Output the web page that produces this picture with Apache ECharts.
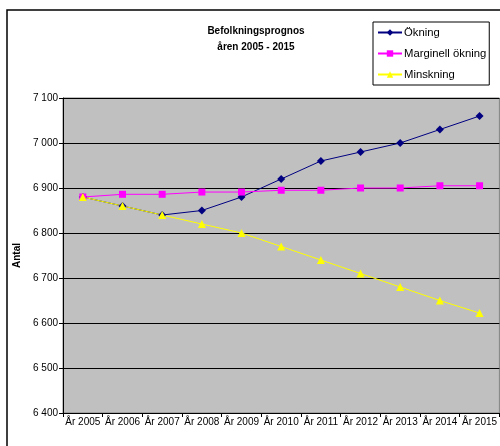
<!DOCTYPE html>
<html>
<head>
<meta charset="utf-8">
<script src="https://cdn.jsdelivr.net/npm/echarts@6/dist/echarts.min.js"></script>
<style>
  html, body { margin: 0; padding: 0; background: #fff; }
  #chart { width: 500px; height: 446px; }
</style>
</head>
<body>
<div id="chart"></div>
<script>
const years = ['År 2005', 'År 2006', 'År 2007', 'År 2008', 'År 2009', 'År 2010', 'År 2011', 'År 2012', 'År 2013', 'År 2014', 'År 2015']
const okning = [6880, 6860, 6840, 6850, 6880, 6920, 6960, 6980, 7000, 7030, 7060]
const marginell = [6880, 6886, 6886, 6891, 6891, 6895, 6895, 6900, 6900, 6905, 6905]
const minskning = [6880, 6860, 6840, 6820, 6800, 6770, 6740, 6710, 6680, 6650, 6622]

const font = 'Liberation Sans, Arial, sans-serif'
const myChart = echarts.init(document.getElementById('chart'))

myChart.setOption({
  animation: false,
  textStyle: { fontFamily: font },
  graphic: [{
    type: 'rect',
    shape: { x: 7, y: 10, width: 520, height: 460 },
    style: { fill: 'none', stroke: '#000', lineWidth: 1.5 },
    z: -1
  }],
  title: {
    text: 'Befolkningsprognos\nåren 2005 - 2015',
    left: 251,
    top: 18,
    textAlign: 'center',
    textStyle: { fontSize: 10, fontWeight: 'bold', color: '#000', lineHeight: 16, fontFamily: font }
  },
  legend: {
    orient: 'vertical',
    left: 373,
    top: 22,
    padding: [5, 3, 5, 4],
    itemGap: 10,
    itemWidth: 24,
    itemHeight: 8,
    borderColor: '#000',
    borderWidth: 1,
    backgroundColor: '#fff',
    textStyle: { fontSize: 11.3, color: '#000', fontFamily: font, padding: [0, 0, 0, -3] },
    data: ['Ökning', 'Marginell ökning', 'Minskning']
  },
  grid: {
    left: 63,
    top: 98,
    right: -1,
    bottom: 33,
    show: true,
    backgroundColor: '#c0c0c0',
    borderColor: '#808080',
    borderWidth: 1
  },
  xAxis: {
    type: 'category',
    data: years,
    boundaryGap: true,
    axisLine: { lineStyle: { color: '#000', width: 1 } },
    axisTick: { show: true, inside: false, length: 4, lineStyle: { color: '#000' } },
    axisLabel: { color: '#000', fontSize: 10, margin: 4, interval: 0, fontFamily: font }
  },
  yAxis: {
    type: 'value',
    min: 6400,
    max: 7100,
    interval: 100,
    name: 'Antal',
    nameLocation: 'middle',
    nameRotate: 90,
    nameGap: 41,
    nameTextStyle: { fontSize: 10, fontWeight: 'bold', color: '#000', fontFamily: font },
    axisLine: { show: true, lineStyle: { color: '#000', width: 1 } },
    axisTick: { show: true, length: 4, lineStyle: { color: '#000' } },
    splitLine: { show: true, lineStyle: { color: '#000', width: 1 } },
    axisLabel: {
      color: '#000',
      fontSize: 10,
      margin: 5,
      fontFamily: font,
      formatter: function (v) {
        return String(v).replace(/\B(?=(\d{3})+(?!\d))/g, ' ')
      }
    }
  },
  series: [
    {
      name: 'Ökning',
      type: 'line',
      data: okning,
      symbol: 'diamond',
      symbolSize: 8,
      lineStyle: { color: '#000080', width: 1 },
      itemStyle: { color: '#000080' }
    },
    {
      name: 'Marginell ökning',
      type: 'line',
      data: marginell,
      symbol: 'rect',
      symbolSize: 7,
      lineStyle: { color: '#ff00ff', width: 1 },
      itemStyle: { color: '#ff00ff' }
    },
    {
      name: 'Minskning',
      type: 'line',
      data: minskning,
      symbol: 'triangle',
      symbolSize: 8,
      lineStyle: { color: '#ffff00', width: 1 },
      itemStyle: { color: '#ffff00' }
    }
  ]
})
</script>
</body>
</html>
